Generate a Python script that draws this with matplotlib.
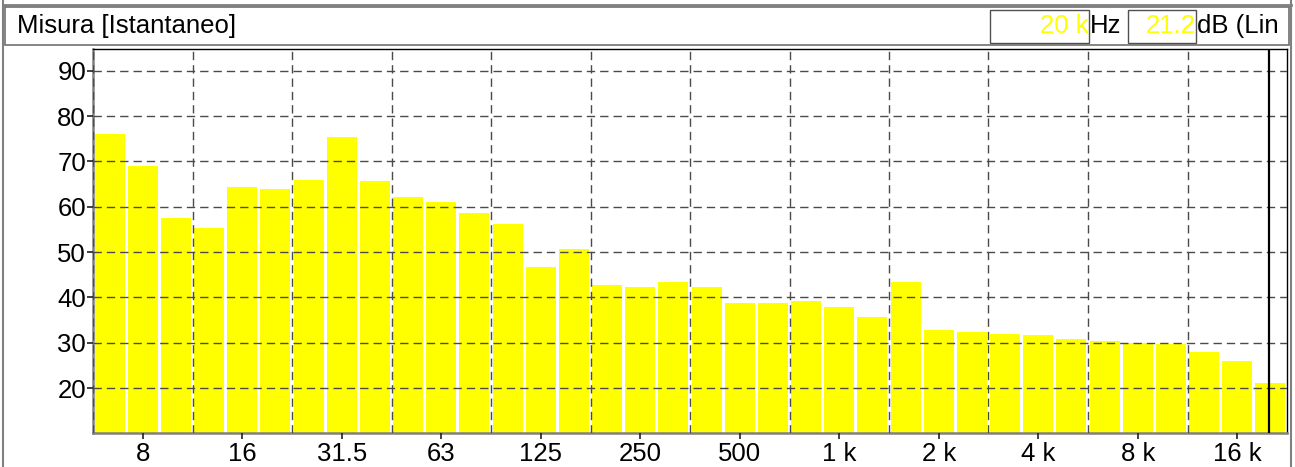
import matplotlib
matplotlib.use("Agg")
import matplotlib.pyplot as plt
from matplotlib.patches import Rectangle
from matplotlib.lines import Line2D

plt.rcParams['font.family'] = ['Liberation Sans', 'DejaVu Sans']

# 1/3-octave band centres (Hz) and levels (dB)
bands = ["6.3", "8", "10", "12.5", "16", "20", "25", "31.5", "40", "50", "63", "80",
         "100", "125", "160", "200", "250", "315", "400", "500", "630", "800",
         "1 k", "1.25 k", "1.6 k", "2 k", "2.5 k", "3.15 k", "4 k", "5 k", "6.3 k",
         "8 k", "10 k", "12.5 k", "16 k", "20 k"]
levels = [76.1, 69.1, 57.5, 55.3, 64.4, 64.0, 66.0, 75.3, 65.6, 62.2, 61.0, 58.7,
          56.2, 46.7, 50.7, 42.8, 42.4, 43.3, 42.2, 38.8, 38.8, 39.3, 37.8, 35.7,
          43.3, 32.9, 32.4, 32.0, 31.8, 30.9, 30.4, 30.0, 29.8, 28.0, 26.0, 21.2]
tick_labels = ["8", "16", "31.5", "63", "125", "250", "500", "1 k", "2 k", "4 k", "8 k", "16 k"]
y_ticks = [20, 30, 40, 50, 60, 70, 80, 90]
cursor_band = "20 k"
cursor_value = "21.2"

W, H = 1295, 467
fig = plt.figure(figsize=(W / 100, H / 100), dpi=100)

def fx(x):
    return x / W

def fy(y):
    return 1 - y / H

ax = fig.add_axes([fx(93), fy(432.5), fx(1287) - fx(93), fy(49) - fy(432.5)])

idx = list(range(len(bands)))
centres = [i + 0.5 for i in idx]
ax.bar(centres, levels, width=0.9, color='#ffff00', edgecolor='none', zorder=1,
       bottom=0)
ax.set_xlim(0, len(bands))
ax.set_ylim(10.2, 94.8)

# ticks
tick_pos = [centres[bands.index(t)] for t in tick_labels]
ax.set_xticks(tick_pos)
ax.set_xticklabels(tick_labels)
ax.set_xticks(list(range(0, len(bands), 3)), minor=True)
ax.set_yticks(y_ticks)
ax.set_yticklabels([str(v) for v in y_ticks])
ax.tick_params(axis='both', which='major', labelsize=18.5, length=4, width=1.2,
               color='#202020', pad=1)
ax.tick_params(axis='x', which='major', pad=3)
ax.tick_params(axis='x', which='minor', length=0)

ax.set_axisbelow(False)
ax.grid(axis='x', which='minor', color='#4a4a4a', linewidth=1.0, linestyle=(0, (6, 3.6)))
ax.grid(axis='y', which='major', color='#4a4a4a', linewidth=1.0, linestyle=(0, (6, 3.6)))
ax.grid(axis='x', which='major', visible=False)

for s in ['left', 'bottom']:
    ax.spines[s].set_color('#808080')
    ax.spines[s].set_linewidth(1.8)
for s in ['top', 'right']:
    ax.spines[s].set_color('#000000')
    ax.spines[s].set_linewidth(1.0)

# cursor line
ax.axvline(centres[bands.index(cursor_band)] - 0.05, color='black', linewidth=1.6, zorder=3)

# outer frame
fig.add_artist(Line2D([fx(3), fx(3)], [fy(0), fy(467)], transform=fig.transFigure,
                      color='#808080', linewidth=1.5))
fig.add_artist(Line2D([fx(3), fx(1291)], [fy(5), fy(5)], transform=fig.transFigure,
                      color='#808080', linewidth=2))
fig.add_artist(Line2D([fx(1291), fx(1291)], [fy(0), fy(467)], transform=fig.transFigure,
                      color='#808080', linewidth=1.5))

# title bar
fig.add_artist(Rectangle((fx(5), fy(45)), fx(1289) - fx(5), fy(7) - fy(45),
                         transform=fig.transFigure, facecolor='white',
                         edgecolor='#707070', linewidth=1.2))
fig.text(fx(17), fy(26), "Misura [Istantaneo]", fontsize=18.5, va='center', ha='left')

# value boxes
fig.add_artist(Rectangle((fx(990), fy(43)), fx(1089) - fx(990), fy(10) - fy(43),
                         transform=fig.transFigure, facecolor='white',
                         edgecolor='#505050', linewidth=1.0))
fig.text(fx(1089), fy(26), cursor_band, fontsize=18.5, va='center', ha='right', color='#ffff00')
fig.text(fx(1090), fy(26), "Hz", fontsize=18.5, va='center', ha='left', color='black')
fig.add_artist(Rectangle((fx(1128), fy(43)), fx(1196) - fx(1128), fy(10) - fy(43),
                         transform=fig.transFigure, facecolor='white',
                         edgecolor='#505050', linewidth=1.0))
fig.text(fx(1196), fy(26), cursor_value, fontsize=18.5, va='center', ha='right', color='#ffff00')
fig.text(fx(1197), fy(26), "dB (Lin", fontsize=18.5, va='center', ha='left', color='black')

fig.savefig("out.png", dpi=100)
